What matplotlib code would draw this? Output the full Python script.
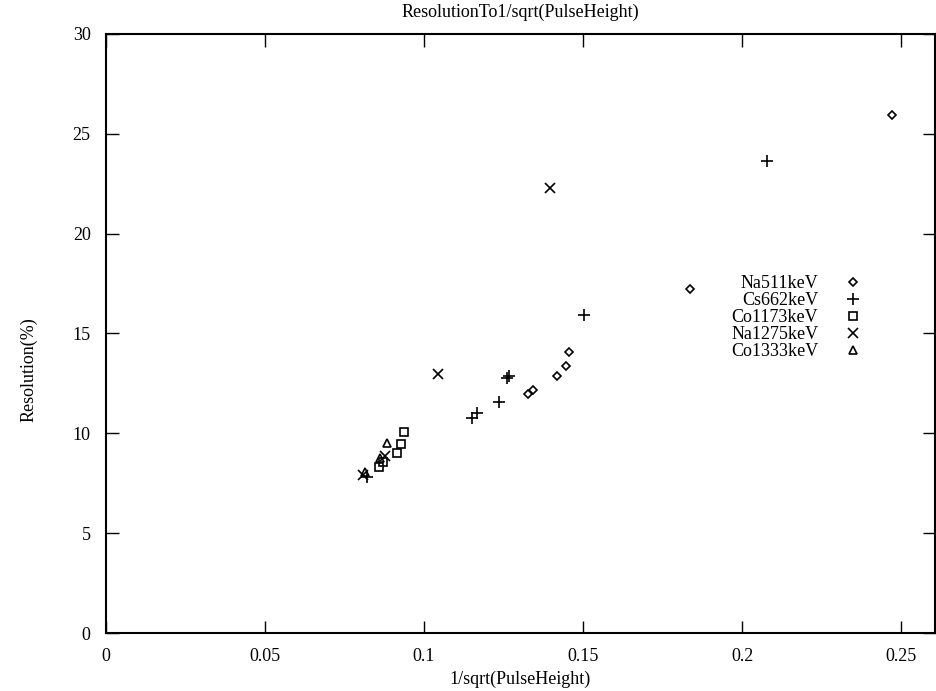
import numpy as np
import matplotlib
matplotlib.use("Agg")
import matplotlib.pyplot as plt

# data
na511_x = [0.1327, 0.1343, 0.1418, 0.1447, 0.1456, 0.1836, 0.2472]
na511_y = [11.99, 12.19, 12.85, 13.35, 14.05, 17.21, 25.94]

cs662_x = [0.0822, 0.1151, 0.1167, 0.1236, 0.1262, 0.1266, 0.1503, 0.2079]
cs662_y = [7.8, 10.79, 11.04, 11.59, 12.75, 12.85, 15.91, 23.63]

co1173_x = [0.0860, 0.0872, 0.0915, 0.0928, 0.0937]
co1173_y = [8.3, 8.55, 9.03, 9.48, 10.09]

na1275_x = [0.0808, 0.0876, 0.1044, 0.1396]
na1275_y = [7.93, 8.85, 12.95, 22.28]

co1333_x = [0.0815, 0.0862, 0.0884]
co1333_y = [8.05, 8.75, 9.53]

x_ticks = [0, 0.05, 0.1, 0.15, 0.2, 0.25]
x_labels = ["0", "0.05", "0.1", "0.15", "0.2", "0.25"]
y_ticks = [0, 5, 10, 15, 20, 25, 30]

plt.rcParams['font.family'] = ['Liberation Serif', 'DejaVu Serif']

fig = plt.figure(figsize=(9.36, 6.91), dpi=100)
ax = fig.add_axes([0.1132, 0.0839, 0.8858, 0.8671])

ms = 6
ax.plot(na511_x, na511_y, ls='none', marker='D', ms=4.5, mfc='none', mec='black', mew=1.2, label='Na511keV')
ax.plot(cs662_x, cs662_y, ls='none', marker='+', ms=8, mec='black', mew=1.2, label='Cs662keV')
ax.plot(co1173_x, co1173_y, ls='none', marker='s', ms=ms, mfc='none', mec='black', mew=1.2, label='Co1173keV')
ax.plot(na1275_x, na1275_y, ls='none', marker='x', ms=7, mec='black', mew=1.2, label='Na1275keV')
ax.plot(co1333_x, co1333_y, ls='none', marker='^', ms=ms, mfc='none', mec='black', mew=1.2, label='Co1333keV')

ax.set_xlim(0, 0.2607)
ax.set_ylim(0, 30)
ax.set_xticks(x_ticks)
ax.set_xticklabels(x_labels)
ax.set_yticks(y_ticks)
ax.tick_params(direction='in', length=9, width=1, top=True, right=True,
               labelsize=13, pad=11)
for s in ax.spines.values():
    s.set_linewidth(1.5)

ax.set_title('ResolutionTo1/sqrt(PulseHeight)', fontsize=13, pad=12)
ax.set_xlabel('1/sqrt(PulseHeight)', fontsize=13, labelpad=4)
ax.set_ylabel('Resolution(%)', fontsize=13)
ax.yaxis.set_label_coords(-0.083, 0.44)

ax.legend(loc='upper left', bbox_to_anchor=(0.743, 0.612), frameon=False,
          markerfirst=False, fontsize=13, handlelength=1.2, handletextpad=1.35,
          labelspacing=0.0, borderpad=0)

fig.savefig('out.png', dpi=100)
